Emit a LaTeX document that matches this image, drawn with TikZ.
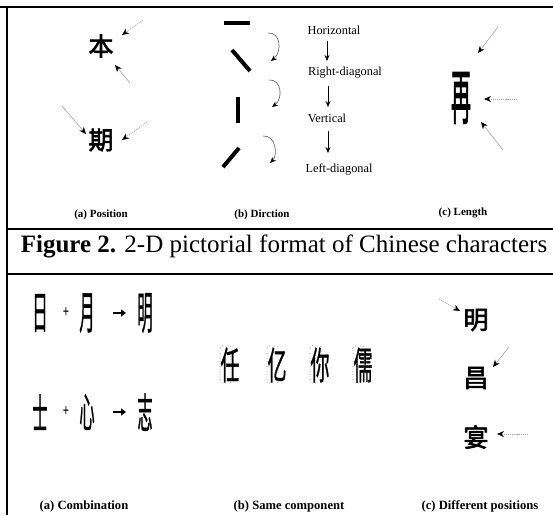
\documentclass[tikz,border=0pt]{standalone}
\usepackage{fontspec}
\usepackage{graphicx}
\setmainfont{Liberation Serif}
\newfontfamily\cjk{Noto Sans CJK SC}[FakeBold=1.2]
\newfontfamily\cjkb{Noto Sans CJK SC}[FakeBold=2.5]
\usetikzlibrary{arrows.meta}

\tikzset{
  rule/.style={line width=2.2pt},
  sublabel/.style={font=\fontsize{11}{12}\selectfont\bfseries, inner sep=0pt},
  partlabel/.style={font=\fontsize{12.6}{14}\selectfont\bfseries, inner sep=0pt},
  dirlabel/.style={font=\fontsize{12.3}{14}\selectfont, inner sep=0pt},
  glyph/.style={inner sep=0pt},
  stroke/.style={line width=4pt},
  ptr/.style={draw=gray!70, line width=0.6pt, -{Stealth[length=7pt,width=6pt,color=black]}},
  dptr/.style={ptr, dash pattern=on 1.2pt off 0.9pt},
  turn/.style={draw=black!65, line width=0.6pt, -{Stealth[length=6pt,width=5pt,color=black]}},
  down/.style={draw=black, line width=0.6pt, -{Stealth[length=6pt,width=5pt]}},
  joinarrow/.style={line width=1.6pt, -{Triangle[length=5pt,width=7pt]}},
  part/.style={draw=gray, dotted, line width=0.6pt, rounded corners=2pt},
}

\begin{document}
\begin{tikzpicture}[x=1pt,y=-1pt]
\useasboundingbox (0,0) rectangle (553,515);

% frame rules
\draw[rule] (0,7) -- (553,7);
\draw[rule] (7,7) -- (7,515);
\draw[rule] (7,229) -- (553,229);
\draw[rule] (7,274) -- (553,274);

% ---------- (a) Position ----------
\node[glyph] (ben) at (101,46) {\fontsize{25}{25}\selectfont\cjkb 本};
\node[glyph] (qi)  at (101,140) {\fontsize{25}{25}\selectfont\cjkb 期};
\coordinate (p1s) at (143,20);  \coordinate (p1e) at (122,35);
\coordinate (p2s) at (130,83);  \coordinate (p2e) at (115,65);
\coordinate (p3s) at (62,106);  \coordinate (p3e) at (86,134);
\coordinate (p4s) at (147,122); \coordinate (p4e) at (122,140);
\draw[dptr] (p1s) -- (p1e);
\draw[ptr]  (p2s) -- (p2e);
\draw[ptr]  (p3s) -- (p3e);
\draw[dptr] (p4s) -- (p4e);
\node[sublabel] (la) at (101,215) {(a) Position};

% ---------- (b) Direction ----------
\draw[stroke] (224,23) -- (250,23);
\draw[stroke] (232,50) -- (250,71);
\draw[stroke] (238,97) -- (238,123);
\draw[stroke] (239,148) -- (223,167);

\coordinate (t1s) at (268,33);  \coordinate (t1e) at (271,61);
\coordinate (t2s) at (269,80);  \coordinate (t2e) at (272,107);
\coordinate (t3s) at (263,136); \coordinate (t3e) at (270,163);
\draw[turn] (t1s) .. controls (281,32) and (282,52) .. (t1e);
\draw[turn] (t2s) .. controls (282,79) and (283,99) .. (t2e);
\draw[turn] (t3s) .. controls (276,135) and (278,155) .. (t3e);

\node[dirlabel] (hz) at (334,30)  {Horizontal};
\node[dirlabel] (rd) at (345,73)  {Right-diagonal};
\node[dirlabel] (vt) at (327,118) {Vertical};
\node[dirlabel] (ld) at (339,169) {Left-diagonal};
\coordinate (d1s) at (327,41);  \coordinate (d1e) at (327,61);
\coordinate (d2s) at (328,86);  \coordinate (d2e) at (328,107);
\coordinate (d3s) at (328,131); \coordinate (d3e) at (328,153);
\draw[down] (d1s) -- (d1e);
\draw[down] (d2s) -- (d2e);
\draw[down] (d3s) -- (d3e);
\node[sublabel] (lb) at (262,215) {(b) Dirction};

% ---------- (c) Length ----------
\node[glyph] (zai) at (461,98) {\scalebox{0.9}[2.7]{\fontsize{22}{22}\selectfont\cjkb 再}};
\coordinate (q1s) at (498,27);  \coordinate (q1e) at (478,53);
\coordinate (q2s) at (517,99);  \coordinate (q2e) at (484,99);
\coordinate (q3s) at (503,150); \coordinate (q3e) at (481,122);
\draw[ptr]  (q1s) -- (q1e);
\draw[dptr] (q2s) -- (q2e);
\draw[ptr]  (q3s) -- (q3e);
\node[sublabel] (lc) at (463,213) {(c) Length};

% ---------- caption ----------
\node[inner sep=0pt, anchor=base] (fig) at (284,252)
  {\fontsize{25}{30}\selectfont\textbf{Figure 2.} 2-D pictorial format of Chinese characters};

% ---------- (a) Combination ----------
\node[glyph] (ri)  at (40,313)  {\scalebox{0.85}[2.5]{\fontsize{18}{18}\selectfont\cjk 日}};
\node[glyph] (pl1) at (66,313)  {\scalebox{1}[1.6]{\fontsize{11}{11}\selectfont\bfseries +}};
\node[glyph] (yue) at (87,313)  {\scalebox{0.85}[2.5]{\fontsize{18}{18}\selectfont\cjk 月}};
\node[glyph] (ming) at (145,313) {\scalebox{0.85}[2.5]{\fontsize{18}{18}\selectfont\cjk 明}};
\coordinate (j1s) at (113,313); \coordinate (j1e) at (126,313);
\draw[joinarrow] (j1s) -- (j1e);

\node[glyph] (shi) at (40,412)  {\scalebox{0.85}[2.3]{\fontsize{18}{18}\selectfont\cjk 士}};
\node[glyph] (pl2) at (66,412)  {\scalebox{1}[1.6]{\fontsize{11}{11}\selectfont\bfseries +}};
\node[glyph] (xin) at (87,412)  {\scalebox{0.85}[2.3]{\fontsize{18}{18}\selectfont\cjk 心}};
\node[glyph] (zhi) at (145,412) {\scalebox{0.85}[2.3]{\fontsize{18}{18}\selectfont\cjk 志}};
\coordinate (j2s) at (113,412); \coordinate (j2e) at (126,412);
\draw[joinarrow] (j2s) -- (j2e);
\node[partlabel] (l2a) at (84,506) {(a) Combination};

% ---------- (b) Same component ----------
\node[glyph] (ren) at (230,365) {\scalebox{0.95}[1.9]{\fontsize{20}{20}\selectfont\cjk 任}};
\node[glyph] (yi)  at (277,365) {\scalebox{0.95}[1.9]{\fontsize{20}{20}\selectfont\cjk 亿}};
\node[glyph] (ni)  at (320,365) {\scalebox{0.95}[1.9]{\fontsize{20}{20}\selectfont\cjk 你}};
\node[glyph] (ru)  at (363,365) {\scalebox{0.95}[1.9]{\fontsize{20}{20}\selectfont\cjk 儒}};
\draw[part] (220,346) rectangle (231,383);
\draw[part] (267,346) rectangle (278,383);
\draw[part] (310,346) rectangle (321,383);
\draw[part] (353,346) rectangle (364,383);
\node[partlabel] (l2b) at (289,506) {(b) Same component};

% ---------- (c) Different positions ----------
\node[glyph] (ming2) at (476,320) {\fontsize{25}{25}\selectfont\cjkb 明};
\node[glyph] (chang) at (476,378) {\fontsize{25}{25}\selectfont\cjkb 昌};
\node[glyph] (yan)   at (476,437) {\fontsize{25}{25}\selectfont\cjkb 宴};
\coordinate (r1s) at (439,299); \coordinate (r1e) at (460,311);
\coordinate (r2s) at (509,347); \coordinate (r2e) at (493,367);
\coordinate (r3s) at (528,434); \coordinate (r3e) at (497,434);
\draw[dptr] (r1s) -- (r1e);
\draw[ptr]  (r2s) -- (r2e);
\draw[dptr] (r3s) -- (r3e);
\node[partlabel] (l2c) at (480,506) {(c) Different positions};
\end{tikzpicture}
\end{document}
